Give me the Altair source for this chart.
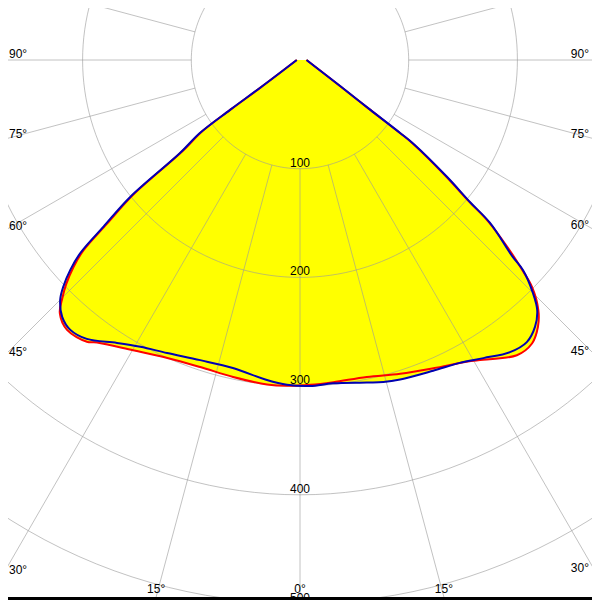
import altair as alt
import pandas as pd
import numpy as np

# ---- data (angle in degrees from nadir, negative = left half; value in cd/klm) ----
red_angles = [-90, -55.1, -54.5, -53.9, -52.2, -51.1, -49.7, -48.7, -47.6, -46.2, -45, -43.5, -40.8, -37.1,
              -35.7, -29.9, -24.0, -18.0, -11.9, -5.8, -2.3, 1.8, 5.9, 11.9, 17.7, 23.4, 28.9, 31.4, 36.3,
              39.3, 41.7, 43.6, 45.6, 46.7, 47.9, 49.4, 50.1, 51.5, 53.5, 53.9, 54.7, 57.1, 90]
red_values = [3, 44, 77, 111, 137, 197, 233, 265, 282, 298, 309, 321, 328, 325,
              320, 308, 300, 297, 298, 300, 300, 299, 298, 298, 303, 309, 317, 323, 337,
              337, 329, 318, 299, 280, 258, 228, 202, 171, 129, 112, 77, 42, 6]

blue_angles = [-90, -55.1, -54.5, -53.9, -52.2, -51.1, -49.7, -48.7, -47.6, -46.2, -45, -42.8, -40.4, -37.4,
               -32.9, -29.1, -24.4, -18.4, -12.3, -5.9, -2.3, 1.8, 5.8, 11.7, 14.5, 17.4, 23.2, 27.8, 31.6,
               35.7, 38.8, 41.4, 43.5, 45, 46.7, 47.2, 49.4, 50.1, 51.5, 53.5, 53.9, 54.7, 57.1, 90]
blue_values = [3, 45, 79, 114, 140, 201, 237, 269, 286, 302, 312, 322, 326, 323,
               310, 302, 296, 291, 290, 296, 299, 300, 299, 303, 306, 308, 311, 315, 322,
               331, 333, 327, 317, 303, 282, 267, 230, 204, 173, 131, 114, 79, 44, 6]

ring_values = [100, 200, 300, 400, 500]
spoke_angles = list(range(0, 360, 15))
label_angles = [-90, -75, -60, -45, -30, -15, 0, 15, 30, 45, 60, 75, 90]

# ---- geometry of the frame (pixels of the 600x600 picture) ----
PX = 1.087             # pixels per unit
CX, CY = 300, 60       # pole position in the picture
OFF = 8                # page margin
W, H = 584, 592        # drawable area (page width minus both margins)
X_MIN, X_MAX = (OFF - CX) / PX, (OFF + W - CX) / PX
Y_MIN, Y_MAX = (CY - OFF - H) / PX, (CY - OFF) / PX
XL, XR, YB = (2 - CX) / PX, (597 - CX) / PX, (CY - 597) / PX

curves = pd.concat([
    pd.DataFrame({"angle": red_angles, "value": red_values, "series": "C0-C180"}),
    pd.DataFrame({"angle": blue_angles, "value": blue_values, "series": "C90-C270"}),
])
curves["idx"] = curves.groupby("series").cumcount()

rings = pd.DataFrame([(r, a) for r in ring_values for a in np.arange(0, 362, 2)], columns=["value", "angle"])
spokes = pd.DataFrame([(a, r) for a in spoke_angles for r in (100, 700)], columns=["angle", "value"])
ring_lab = pd.DataFrame({"value": ring_values, "angle": 0, "text": [str(v) for v in ring_values]})

rows = []
for a in label_angles:
    rad = np.radians(a)
    ux, uy = np.sin(rad), -np.cos(rad)
    cands = []
    if ux < -1e-9:
        cands.append((XL / ux, "left"))
    if ux > 1e-9:
        cands.append((XR / ux, "right"))
    if uy < -1e-9:
        cands.append((YB / uy, "bottom"))
    t, side = min(cands)
    rows.append({"x": t * ux, "y": t * uy, "side": side, "text": f"{abs(a)}\u00b0"})
ang_lab = pd.DataFrame(rows)

xs = alt.Scale(domain=[X_MIN, X_MAX], nice=False, zero=False)
ys = alt.Scale(domain=[Y_MIN, Y_MAX], nice=False, zero=False)
X = alt.X("x:Q", scale=xs, axis=None)
Y = alt.Y("y:Q", scale=ys, axis=None)

def polar(ch):
    return ch.transform_calculate(
        x="datum.value * sin(datum.angle * PI / 180)",
        y="-datum.value * cos(datum.angle * PI / 180)",
    )

fill = polar(alt.Chart(curves)).mark_line(
    fill="#ffff00", stroke="#ffff00", strokeWidth=1, clip=True, interpolate="catmull-rom"
).encode(x=X, y=Y, detail="series:N", order="idx:Q")

grid_rings = polar(alt.Chart(rings)).mark_line(
    stroke="#9a9a9a", strokeOpacity=0.6, strokeWidth=1, clip=True
).encode(x=X, y=Y, detail="value:N", order="angle:Q")

grid_spokes = polar(alt.Chart(spokes)).mark_line(
    stroke="#9a9a9a", strokeOpacity=0.6, strokeWidth=1, clip=True
).encode(x=X, y=Y, detail="angle:N", order="value:Q")

red = polar(alt.Chart(curves).transform_filter(alt.datum.series == "C0-C180")).mark_line(
    stroke="#ff0000", strokeWidth=2, clip=True, interpolate="catmull-rom"
).encode(x=X, y=Y, order="idx:Q")

blue = polar(alt.Chart(curves).transform_filter(alt.datum.series == "C90-C270")).mark_line(
    stroke="#0000b4", strokeWidth=2, clip=True, interpolate="catmull-rom"
).encode(x=X, y=Y, order="idx:Q")

font = dict(font="Liberation Sans", fontSize=12, color="black")

rlab = polar(alt.Chart(ring_lab)).mark_text(
    align="center", baseline="alphabetic", dy=-2, clip=True, **font
).encode(x=X, y=Y, text="text:N")

lab_left = alt.Chart(ang_lab).transform_filter(alt.datum.side == "left").mark_text(
    align="left", baseline="alphabetic", dx=7, dy=-2, **font
).encode(x=X, y=Y, text="text:N")
lab_right = alt.Chart(ang_lab).transform_filter(alt.datum.side == "right").mark_text(
    align="right", baseline="alphabetic", dx=-8, dy=-2, **font
).encode(x=X, y=Y, text="text:N")
lab_bottom = alt.Chart(ang_lab).transform_filter(alt.datum.side == "bottom").mark_text(
    align="center", baseline="alphabetic", dy=-4, **font
).encode(x=X, y=Y, text="text:N")

frame = pd.DataFrame({"x": [X_MAX], "y": [Y_MIN]})
border_b = alt.Chart(frame).mark_rule(color="black", strokeWidth=6).encode(y=Y)

chart = alt.layer(
    fill, grid_rings, grid_spokes, red, blue, rlab, lab_left, lab_right, lab_bottom, border_b
).properties(
    width=W, height=H, padding=0, autosize=alt.AutoSizeParams(type="none")
).configure_view(stroke=None)

chart.save("out.html", embed_options={"renderer": "svg", "actions": False})
